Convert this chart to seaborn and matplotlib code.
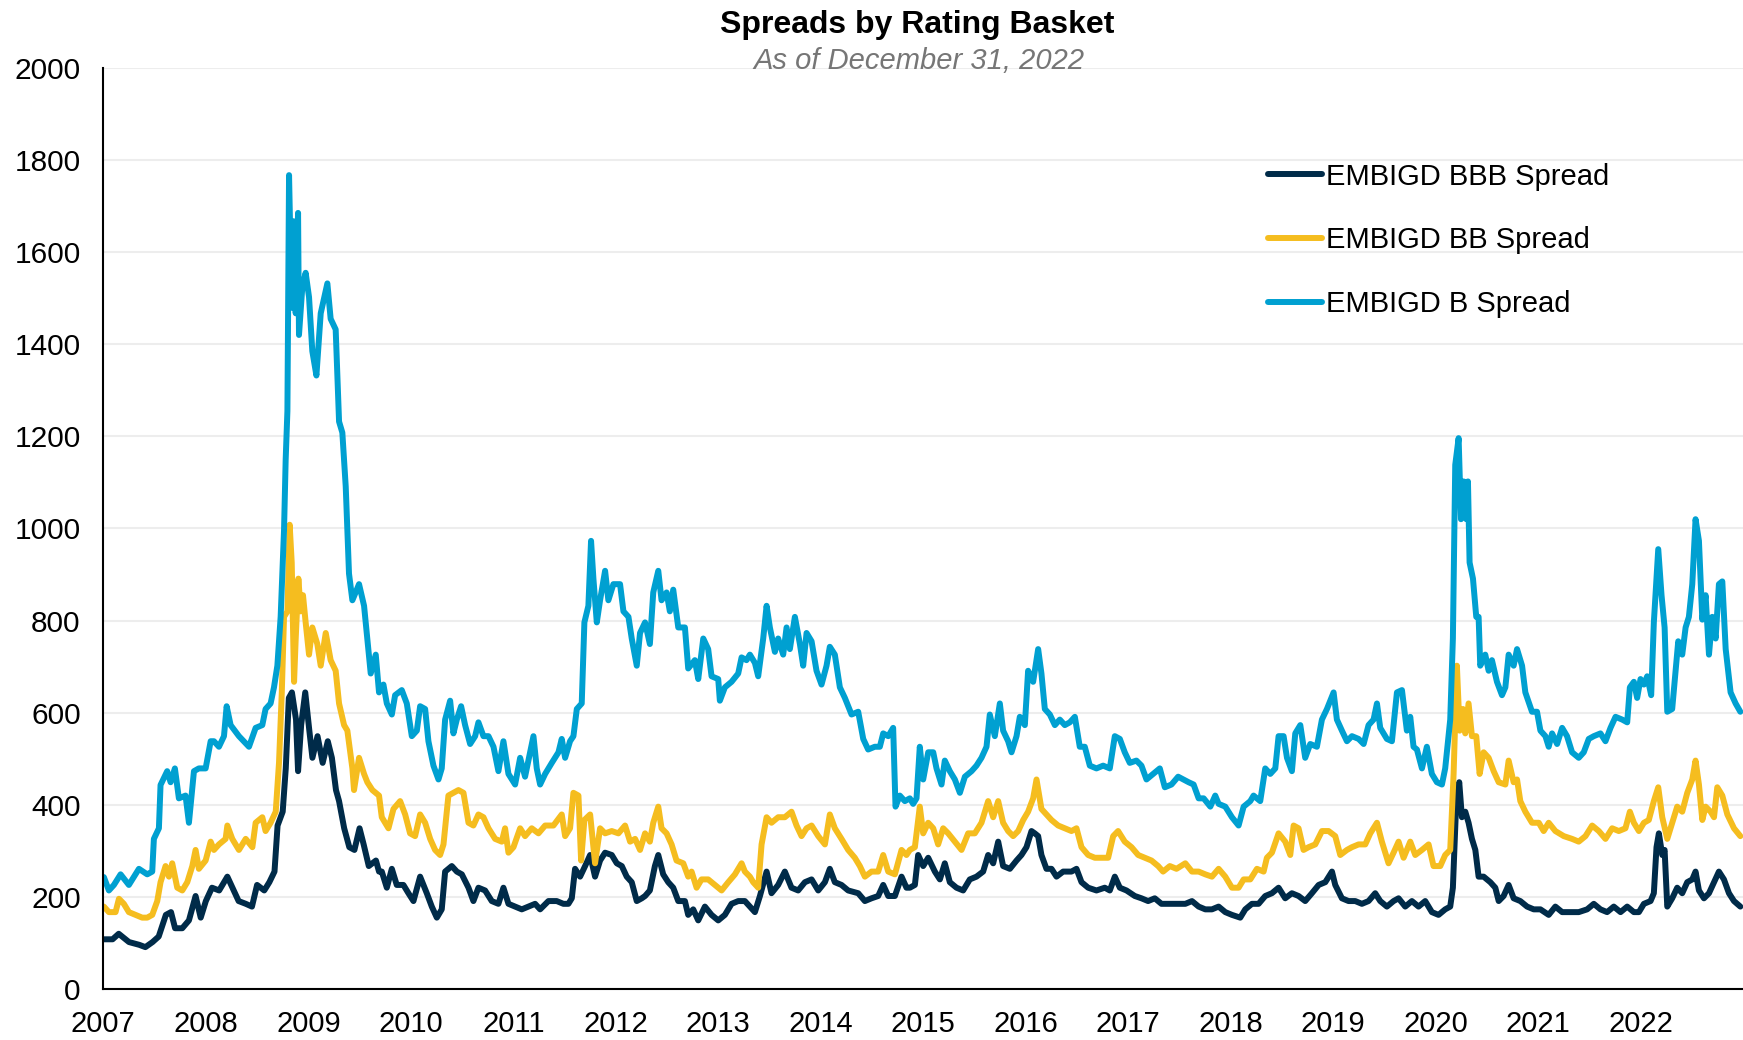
import numpy as np
import pandas as pd
import matplotlib
matplotlib.use("Agg")
import matplotlib.pyplot as plt
import seaborn as sns

# EMBIGD spreads (bps), x = decimal year
bbb_year = [
    2007.00, 2007.09, 2007.15, 2007.25, 2007.35, 2007.41, 2007.48, 2007.54, 2007.61, 2007.66,
    2007.70, 2007.77, 2007.835, 2007.90, 2007.95, 2008.00, 2008.06, 2008.13, 2008.21, 2008.26,
    2008.32, 2008.39, 2008.45, 2008.50, 2008.57, 2008.62, 2008.67, 2008.70, 2008.75, 2008.78,
    2008.81, 2008.84, 2008.88, 2008.90, 2008.93, 2008.97, 2009.01, 2009.04, 2009.09, 2009.14,
    2009.19, 2009.23, 2009.27, 2009.30, 2009.35, 2009.40, 2009.45, 2009.50, 2009.54, 2009.59,
    2009.66, 2009.69,
    2009.717, 2009.766, 2009.815, 2009.863, 2009.928, 2009.977, 2010.026, 2010.091, 2010.156, 2010.205,
    2010.254, 2010.302, 2010.335, 2010.400, 2010.449, 2010.498, 2010.563, 2010.611, 2010.660, 2010.725,
    2010.790, 2010.855, 2010.904, 2010.953, 2011.018, 2011.083, 2011.148, 2011.213, 2011.262, 2011.343,
    2011.424, 2011.489, 2011.538, 2011.571, 2011.603, 2011.652, 2011.701, 2011.750, 2011.798, 2011.847,
    2011.896, 2011.961, 2012.010, 2012.059, 2012.107, 2012.156, 2012.205, 2012.254, 2012.286,
    2012.333, 2012.382, 2012.415, 2012.463, 2012.512, 2012.561, 2012.610, 2012.675, 2012.707, 2012.756,
    2012.805, 2012.870, 2012.935, 2013.000, 2013.065, 2013.130, 2013.195, 2013.260, 2013.309, 2013.358,
    2013.407, 2013.472, 2013.520, 2013.585, 2013.650, 2013.715, 2013.780, 2013.846, 2013.911, 2013.976,
    2014.041, 2014.089, 2014.138, 2014.203, 2014.268, 2014.366, 2014.431, 2014.496, 2014.561, 2014.610,
    2014.659, 2014.724, 2014.789, 2014.837, 2014.870,
    2014.919, 2014.951, 2015.000, 2015.049, 2015.114, 2015.163, 2015.211, 2015.260, 2015.325, 2015.390,
    2015.455, 2015.520, 2015.585, 2015.634, 2015.683, 2015.732, 2015.780, 2015.846, 2015.911, 2015.959,
    2016.008, 2016.057, 2016.089, 2016.122, 2016.154, 2016.203, 2016.252, 2016.301, 2016.366, 2016.447,
    2016.496, 2016.545, 2016.610, 2016.691, 2016.772, 2016.821, 2016.870, 2016.919, 2016.984,
    2017.065, 2017.130, 2017.195, 2017.260, 2017.325, 2017.390, 2017.455,
    2017.558, 2017.623, 2017.688, 2017.753, 2017.818, 2017.883, 2017.948,
    2018.013, 2018.094, 2018.143, 2018.208, 2018.273, 2018.338, 2018.403, 2018.468, 2018.533, 2018.598,
    2018.663, 2018.728, 2018.793, 2018.859, 2018.924, 2018.989,
    2019.021, 2019.086, 2019.151, 2019.216, 2019.281, 2019.346, 2019.411, 2019.460, 2019.525, 2019.590,
    2019.639, 2019.704, 2019.769, 2019.834, 2019.899, 2019.964, 2020.029, 2020.094,
    2020.143, 2020.169, 2020.202, 2020.231, 2020.257, 2020.290, 2020.322, 2020.355, 2020.388, 2020.420,
    2020.469, 2020.534, 2020.583, 2020.616, 2020.664, 2020.713, 2020.762, 2020.827, 2020.893, 2020.958,
    2021.023, 2021.104, 2021.169, 2021.235, 2021.316, 2021.397, 2021.479, 2021.544, 2021.609, 2021.674,
    2021.739, 2021.805, 2021.870, 2021.935, 2021.984,
    2022.033, 2022.098, 2022.130, 2022.156, 2022.179, 2022.212, 2022.235, 2022.261, 2022.309, 2022.358,
    2022.407, 2022.456, 2022.505, 2022.537, 2022.570, 2022.619, 2022.668, 2022.717, 2022.765, 2022.814,
    2022.863, 2022.912, 2022.974,
]
bbb_spread = [
    108, 108, 120, 102, 96, 91, 102, 114, 161, 167, 132, 132, 149, 202, 155, 191, 220, 214, 244, 220,
    191, 185, 179, 226, 214, 232, 255, 355, 385, 479, 632, 644, 585, 473, 573, 644, 561, 502, 549, 491,
    538, 502, 432, 408, 349, 308, 302, 349, 314, 267, 279, 255,
    255, 220, 261, 226, 226, 208, 191, 244, 208, 179, 155, 173, 255, 267, 255, 249, 220, 191, 220, 214,
    191, 185, 220, 185, 179, 173, 179, 185, 173, 191, 191, 185, 185, 197, 261, 244, 267, 291, 244, 279,
    296, 291, 273, 267, 244, 232, 191, 197, 202,
    214, 267, 291, 249, 232, 220, 191, 191, 161, 173, 149, 179, 161, 149, 161, 185, 191, 191, 179, 167,
    202, 255, 208, 226, 255, 220, 214, 232, 238, 214, 232, 261, 232, 226, 214, 208, 191, 197, 202, 226,
    202, 202, 244, 220, 220,
    226, 291, 267, 285, 255, 238, 273, 232, 220, 214, 238, 244, 255, 291, 273, 320, 267, 261, 279, 291,
    308, 343, 338, 332, 291, 261, 261, 244, 255, 255, 261, 232, 220, 214, 220, 214, 244, 220, 214,
    202, 197, 191, 197, 185, 185, 185,
    185, 191, 179, 173, 173, 179, 167, 161, 155, 173, 185, 185, 202, 208, 220, 197, 208,
    202, 191, 208, 226, 232, 255, 226, 197, 191, 191, 185, 191, 208, 191, 179, 191,
    197, 179, 191, 179, 191, 167, 161, 173,
    179, 220, 408, 449, 373, 385, 361, 326, 302, 244, 244, 232, 220, 191, 202, 226, 197, 191, 179, 173,
    173, 161, 179, 167, 167, 167, 173, 185, 173, 167, 179, 167, 179, 167, 167,
    185, 191, 208, 308, 338, 291, 302, 179, 197, 220, 208, 232, 238, 255, 214, 197, 208, 232, 255, 238,
    208, 191, 179,
]

bb_year = [
    2007.005, 2007.054, 2007.119, 2007.152, 2007.200, 2007.249, 2007.314, 2007.379, 2007.428, 2007.477,
    2007.526, 2007.558, 2007.607, 2007.640, 2007.672, 2007.721, 2007.770, 2007.819, 2007.868, 2007.900,
    2007.932, 2007.998,
    2008.047, 2008.079, 2008.128, 2008.193, 2008.210, 2008.258, 2008.323, 2008.389, 2008.454, 2008.486,
    2008.551, 2008.583, 2008.632, 2008.682, 2008.714, 2008.741, 2008.763, 2008.796, 2008.818, 2008.838,
    2008.861, 2008.877, 2008.903, 2008.926, 2008.948, 2008.974,
    2009.007, 2009.039, 2009.088, 2009.121, 2009.170, 2009.218, 2009.267, 2009.300, 2009.349, 2009.381,
    2009.430, 2009.446, 2009.495, 2009.544, 2009.576, 2009.625, 2009.690,
    2009.717, 2009.782, 2009.831, 2009.896, 2009.945, 2009.993,
    2010.042, 2010.091, 2010.140, 2010.189, 2010.237, 2010.286, 2010.319, 2010.367, 2010.416, 2010.465,
    2010.514, 2010.563, 2010.611, 2010.660, 2010.709, 2010.758, 2010.823, 2010.888, 2010.920, 2010.953,
    2011.002, 2011.067, 2011.115, 2011.180, 2011.246, 2011.311, 2011.392, 2011.473, 2011.506, 2011.554,
    2011.587, 2011.636, 2011.662, 2011.694, 2011.750, 2011.798, 2011.847, 2011.896, 2011.961,
    2012.026, 2012.091, 2012.140, 2012.189, 2012.237, 2012.286,
    2012.333, 2012.366, 2012.415, 2012.447, 2012.496, 2012.545, 2012.593, 2012.659, 2012.707, 2012.740,
    2012.789, 2012.837, 2012.902, 2012.967,
    2013.033, 2013.098, 2013.163, 2013.228, 2013.260, 2013.309, 2013.341, 2013.390, 2013.423, 2013.472,
    2013.520, 2013.585, 2013.650, 2013.715, 2013.764, 2013.813, 2013.862, 2013.911, 2013.976,
    2014.041, 2014.089, 2014.138, 2014.203, 2014.268, 2014.333, 2014.382, 2014.431, 2014.496, 2014.561,
    2014.610, 2014.659, 2014.724, 2014.789, 2014.837, 2014.870,
    2014.919, 2014.967,
    2015.000, 2015.049, 2015.098, 2015.146, 2015.195, 2015.244, 2015.309, 2015.374, 2015.439, 2015.504,
    2015.569, 2015.634, 2015.683, 2015.732, 2015.780, 2015.829, 2015.878, 2015.927, 2015.976,
    2016.024, 2016.073, 2016.106, 2016.154, 2016.203, 2016.252, 2016.317, 2016.382, 2016.447, 2016.496,
    2016.545, 2016.610, 2016.675, 2016.740, 2016.805, 2016.854, 2016.902, 2016.967,
    2017.033, 2017.098, 2017.163, 2017.228, 2017.293, 2017.341, 2017.407, 2017.472,
    2017.558, 2017.623, 2017.688, 2017.753, 2017.818, 2017.883, 2017.948,
    2018.013, 2018.078, 2018.127, 2018.192, 2018.257, 2018.322, 2018.354, 2018.403, 2018.468, 2018.533,
    2018.582, 2018.615, 2018.663, 2018.712, 2018.761, 2018.826, 2018.891, 2018.956,
    2019.021, 2019.070, 2019.135, 2019.184, 2019.249, 2019.314, 2019.363, 2019.428, 2019.476, 2019.541,
    2019.590, 2019.639, 2019.688, 2019.753, 2019.802, 2019.867, 2019.932, 2019.980,
    2020.046, 2020.094,
    2020.143, 2020.176, 2020.208, 2020.235, 2020.267, 2020.290, 2020.322, 2020.355, 2020.397, 2020.430,
    2020.469, 2020.518, 2020.567, 2020.616, 2020.681, 2020.713, 2020.762, 2020.795, 2020.827, 2020.876,
    2020.941, 2021.007, 2021.055, 2021.104, 2021.169, 2021.251, 2021.332, 2021.397, 2021.463, 2021.528,
    2021.593, 2021.658, 2021.723, 2021.788, 2021.853, 2021.896, 2021.935, 2021.984, 2022.033, 2022.081,
    2022.130, 2022.173, 2022.212, 2022.261, 2022.309, 2022.358, 2022.407, 2022.456, 2022.505, 2022.537,
    2022.570, 2022.603, 2022.635, 2022.684, 2022.717, 2022.749, 2022.798, 2022.847, 2022.912, 2022.974,
]
bb_spread = [
    179, 167, 167, 196, 185, 167, 161, 155, 155, 161, 191, 232, 267, 244, 273, 220, 214, 232, 267, 302,
    261, 279,
    320, 302, 314, 326, 355, 326, 302, 326, 308, 361, 373, 343, 361, 385, 491, 643, 808, 820, 1008, 926,
    667, 761, 891, 820, 855, 796,
    726, 785, 749, 702, 773, 714, 691, 620, 573, 561, 479, 432, 502, 467, 449, 432, 420,
    373, 349, 391, 408, 379, 338,
    332, 379, 361, 326, 302, 291, 314, 420, 426, 432, 426, 361, 355, 379, 373, 349, 326, 320, 349, 296,
    308, 349, 332, 349, 338, 355, 355, 379, 332, 349, 426, 420, 279, 367, 379, 273, 349, 338, 343,
    338, 355, 320, 326, 302, 338,
    320, 361, 396, 349, 338, 314, 279, 273, 244, 255, 220, 238, 238, 226,
    214, 232, 249, 273, 255, 244, 232, 220, 314, 373, 361, 373, 373, 385, 355, 332, 349, 355, 332,
    314, 379, 349, 326, 302, 285, 267, 244, 255, 255, 291, 255, 249, 302, 291, 302,
    308, 396,
    338, 361, 349, 314, 349, 338, 320, 302, 338, 338, 361, 408, 373, 408, 361, 343, 332, 343, 367,
    385, 414, 455, 391, 379, 367, 355, 349, 343, 349, 308, 291, 285, 285, 285, 332, 343, 320,
    308, 291, 285, 279, 267, 255, 267, 261,
    273, 255, 255, 249, 244, 261, 244,
    220, 220, 238, 238, 261, 255, 285, 296, 338, 320, 291, 355, 349, 302, 308, 314, 343, 343,
    332, 291, 302, 308, 314, 314, 338, 361, 320, 273, 296, 320, 285, 320, 291, 302, 314, 267,
    267, 291,
    302, 467, 702, 561, 608, 555, 620, 549, 549, 467, 514, 502, 473, 449, 444, 496, 449, 455, 408, 385,
    361, 361, 343, 361, 343, 332, 326, 320, 332, 355, 343, 326, 349, 343, 349, 385, 361, 343, 361, 367,
    408, 438, 373, 326, 361, 396, 385, 426, 455, 496, 444, 367, 396, 385, 373, 438, 420, 379, 349, 332,
]

b_year = [
    2007.005, 2007.054, 2007.103, 2007.168, 2007.249, 2007.347, 2007.428, 2007.477, 2007.493, 2007.542,
    2007.558, 2007.623, 2007.656, 2007.698, 2007.737, 2007.802, 2007.835, 2007.884, 2007.932, 2007.998,
    2008.047, 2008.079, 2008.128, 2008.177, 2008.203, 2008.242, 2008.323, 2008.421, 2008.486, 2008.551,
    2008.583, 2008.632, 2008.665, 2008.698, 2008.730, 2008.763, 2008.779, 2008.796, 2008.812, 2008.838,
    2008.854, 2008.877, 2008.900, 2008.909, 2008.942, 2008.974,
    2009.007, 2009.039, 2009.079, 2009.121, 2009.186, 2009.218, 2009.267, 2009.300, 2009.332, 2009.365,
    2009.397, 2009.430, 2009.495, 2009.544, 2009.586, 2009.609, 2009.658, 2009.690,
    2009.733, 2009.766, 2009.815, 2009.847, 2009.912, 2009.961,
    2010.010, 2010.059, 2010.091, 2010.140, 2010.172, 2010.221, 2010.270, 2010.302, 2010.335, 2010.384,
    2010.416, 2010.449, 2010.491, 2010.530, 2010.579, 2010.628, 2010.660, 2010.709, 2010.758, 2010.807,
    2010.855, 2010.904, 2010.953,
    2011.018, 2011.067, 2011.115, 2011.197, 2011.229, 2011.262, 2011.311, 2011.376, 2011.441, 2011.473,
    2011.506, 2011.554, 2011.587, 2011.620, 2011.668, 2011.694, 2011.733, 2011.759, 2011.782, 2011.815,
    2011.847, 2011.896, 2011.928, 2011.977,
    2012.042, 2012.075, 2012.124, 2012.156, 2012.205, 2012.237, 2012.286,
    2012.333, 2012.366, 2012.415, 2012.447, 2012.496, 2012.528, 2012.561, 2012.610, 2012.675, 2012.707,
    2012.772, 2012.805, 2012.854, 2012.902, 2012.935,
    2013.000, 2013.016, 2013.065, 2013.130, 2013.195, 2013.228, 2013.276, 2013.309, 2013.358, 2013.390,
    2013.439, 2013.472, 2013.504, 2013.553, 2013.585, 2013.634, 2013.667, 2013.699, 2013.748, 2013.797,
    2013.829, 2013.862, 2013.911, 2013.959,
    2014.008, 2014.057, 2014.089, 2014.138, 2014.187, 2014.236, 2014.301, 2014.366, 2014.415, 2014.463,
    2014.528, 2014.577, 2014.610, 2014.659, 2014.707, 2014.730, 2014.772, 2014.821, 2014.870,
    2014.902, 2014.935, 2014.967,
    2015.000, 2015.049, 2015.098, 2015.130, 2015.179, 2015.211, 2015.260, 2015.309, 2015.358, 2015.407,
    2015.472, 2015.520, 2015.569, 2015.618, 2015.650, 2015.699, 2015.748, 2015.780, 2015.829, 2015.862,
    2015.911, 2015.943, 2015.992,
    2016.024, 2016.073, 2016.122, 2016.154, 2016.187, 2016.236, 2016.285, 2016.333, 2016.382, 2016.431,
    2016.480, 2016.528, 2016.577, 2016.626, 2016.691, 2016.756, 2016.821, 2016.870, 2016.919, 2016.967,
    2017.016, 2017.081, 2017.130, 2017.179, 2017.244, 2017.309, 2017.358, 2017.423, 2017.488,
    2017.590, 2017.639, 2017.688, 2017.737, 2017.802, 2017.850, 2017.883, 2017.948,
    2018.013, 2018.078, 2018.127, 2018.192, 2018.224, 2018.289, 2018.338, 2018.387, 2018.436, 2018.468,
    2018.517, 2018.550, 2018.598, 2018.631, 2018.680, 2018.728, 2018.777, 2018.842, 2018.891, 2018.940,
    2019.005, 2019.037, 2019.086, 2019.135, 2019.184, 2019.249, 2019.298, 2019.346, 2019.395, 2019.428,
    2019.460, 2019.525, 2019.574, 2019.623, 2019.672, 2019.720, 2019.753, 2019.785, 2019.818, 2019.867,
    2019.915, 2019.964, 2020.013, 2020.062, 2020.094,
    2020.143, 2020.169, 2020.192, 2020.225, 2020.248, 2020.274, 2020.300, 2020.316, 2020.332, 2020.365,
    2020.397, 2020.420, 2020.436, 2020.485, 2020.518, 2020.550, 2020.599, 2020.648, 2020.681, 2020.713,
    2020.762, 2020.795, 2020.844, 2020.876, 2020.941, 2020.990, 2021.023, 2021.072, 2021.104, 2021.137,
    2021.186, 2021.235, 2021.283, 2021.332, 2021.397, 2021.446, 2021.495, 2021.544, 2021.609, 2021.658,
    2021.707, 2021.756, 2021.821, 2021.870, 2021.896, 2021.935, 2021.967, 2022.000, 2022.033, 2022.065,
    2022.104, 2022.130, 2022.173, 2022.205, 2022.235, 2022.261, 2022.309, 2022.342, 2022.368, 2022.407,
    2022.440, 2022.472, 2022.505, 2022.537, 2022.570, 2022.603, 2022.635, 2022.668, 2022.700, 2022.733,
    2022.765, 2022.798, 2022.831, 2022.879, 2022.928, 2022.974,
]
b_spread = [
    243, 214, 226, 249, 226, 261, 249, 255, 326, 349, 443, 473, 449, 479, 414, 420, 361, 473, 479, 479,
    538, 538, 526, 549, 614, 573, 549, 526, 567, 573, 608, 620, 655, 702, 808, 996, 1149, 1255, 1767, 1479,
    1667, 1467, 1685, 1420, 1526, 1555,
    1502, 1385, 1332, 1467, 1532, 1455, 1432, 1232, 1208, 1091, 902, 844, 879, 832, 738, 685, 726, 644,
    661, 620, 596, 638, 649, 620,
    549, 561, 614, 608, 538, 485, 455, 479, 585, 626, 555, 585, 614, 573, 532, 549, 579, 549, 549, 526,
    473, 538, 467,
    444, 502, 461, 549, 479, 444, 467, 491, 514, 543, 502, 538, 549, 608, 620, 796, 832, 973, 891, 796,
    844, 908, 844, 879,
    879, 820, 808, 761, 702, 773, 796,
    749, 861, 908, 844, 861, 820, 867, 785, 785, 696, 714, 673, 761, 738, 679,
    673, 626, 655, 667, 685, 720, 714, 726, 708, 679, 761, 832, 785, 732, 761, 726, 785, 738, 808, 749,
    702, 773, 755, 691,
    661, 702, 743, 726, 655, 632, 596, 602, 543, 520, 526, 526, 555, 549, 567, 396, 420, 408, 414,
    402, 414, 526,
    455, 514, 514, 479, 444, 496, 473, 455, 426, 461, 473, 485, 502, 526, 596, 549, 620, 561, 538, 514,
    549, 591, 573,
    691, 667, 738, 685, 608, 596, 573, 585, 573, 579, 591, 526, 526, 485, 479, 485, 479, 549, 543, 514,
    491, 496, 485, 455, 467, 479, 438, 444, 461,
    449, 444, 414, 414, 396, 420, 402, 396,
    373, 355, 396, 408, 420, 408, 479, 467, 479, 549, 549, 502, 473, 555, 573, 502, 532, 526, 585, 608,
    644, 585, 561, 538, 549, 543, 532, 573, 585, 620, 567, 543, 538, 644, 649, 561, 591, 526, 520, 479,
    526, 467, 449, 444, 479,
    585, 761, 1138, 1196, 1020, 1102, 1020, 1102, 926, 891, 808, 808, 702, 726, 691, 714, 667, 638, 655, 726,
    702, 738, 702, 644, 602, 602, 561, 549, 526, 555, 532, 567, 549, 514, 502, 514, 543, 549, 555, 538,
    567, 591, 585, 579, 655, 667, 632, 673, 661, 679, 638, 796, 955, 855, 785, 602, 608, 691, 755, 726,
    785, 808, 879, 1020, 973, 802, 855, 726, 808, 761, 879, 885, 738, 644, 620, 602,
]

series_names = ["EMBIGD BBB Spread", "EMBIGD BB Spread", "EMBIGD B Spread"]
series_colors = ["#002B49", "#F5BD1F", "#00A0D1"]

frames = []
for name, yrs, vals in zip(series_names, [bbb_year, bb_year, b_year],
                           [bbb_spread, bb_spread, b_spread]):
    frames.append(pd.DataFrame({"year": yrs, "spread": vals, "series": name}))
df = pd.concat(frames, ignore_index=True)

sns.set_style("white")
plt.rcParams["font.family"] = ["Liberation Sans", "DejaVu Sans"]
plt.rcParams["text.color"] = "black"

fig = plt.figure(figsize=(17.43, 10.40), dpi=100)
ax = fig.add_axes([0.0593, 0.049, 0.9407, 0.8858])

sns.lineplot(data=df, x="year", y="spread", hue="series", hue_order=series_names,
             palette=series_colors, estimator=None, linewidth=4.3, ax=ax,
             solid_capstyle="round", solid_joinstyle="round")

ax.set_xlim(2007, 2023)
ax.set_ylim(0, 2000)
ax.set_xticks(range(2007, 2023))
ax.set_yticks(range(0, 2001, 200))
ax.set_xlabel("")
ax.set_ylabel("")
ax.yaxis.grid(True, color="#EDEDED", linewidth=1.5)
ax.set_axisbelow(True)
for s in ["top", "right"]:
    ax.spines[s].set_visible(False)
for s in ["left", "bottom"]:
    ax.spines[s].set_color("black")
    ax.spines[s].set_linewidth(1.5)
ax.tick_params(axis="both", direction="out", length=6.3, width=1.3, color="black",
               labelcolor="black")
ax.tick_params(axis="y", labelsize=21.5, pad=10)
ax.tick_params(axis="x", labelsize=21, pad=9)

handles, labels = ax.get_legend_handles_labels()
leg = ax.legend(handles, labels, loc="upper left", bbox_to_anchor=(0.7275, 0.8436),
                bbox_transform=fig.transFigure, frameon=False, fontsize=21,
                handlelength=1.85, handletextpad=0.15, labelspacing=1.22,
                borderpad=0, borderaxespad=0, labelcolor="black")
for line in leg.get_lines():
    line.set_linewidth(4.3)
    line.set_solid_capstyle("round")

fig.text(0.5264, 0.976, "Spreads by Rating Basket", ha="center", va="center",
         fontsize=23, fontweight="bold", color="black")
fig.text(0.5270, 0.941, "As of December 31, 2022", ha="center", va="center",
         fontsize=21, fontstyle="italic", color="#767676")

fig.savefig("out.png", dpi=100)
